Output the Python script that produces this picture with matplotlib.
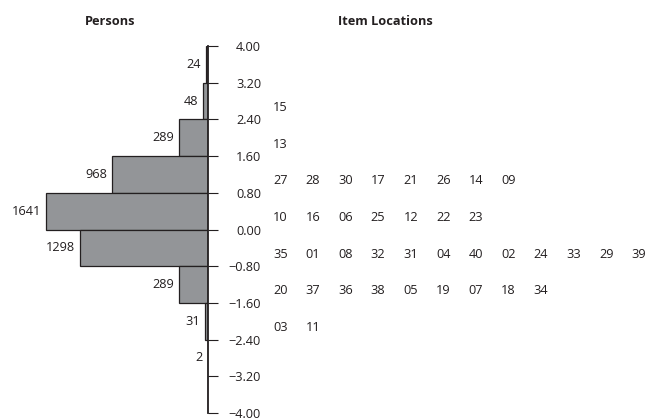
import matplotlib
matplotlib.use("Agg")
import matplotlib.pyplot as plt
import numpy as np

plt.rcParams['font.family'] = ['Open Sans', 'DejaVu Sans']

# Data
bin_edges = [4.00, 3.20, 2.40, 1.60, 0.80, 0.00, -0.80, -1.60, -2.40, -3.20, -4.00]
tick_labels = ["4.00", "3.20", "2.40", "1.60", "0.80", "0.00",
               "\u22120.80", "\u22121.60", "\u22122.40", "\u22123.20", "\u22124.00"]
person_counts = [24, 48, 289, 968, 1641, 1298, 289, 31, 2, 0]
item_rows = [
    [],
    ["15"],
    ["13"],
    ["27", "28", "30", "17", "21", "26", "14", "09"],
    ["10", "16", "06", "25", "12", "22", "23"],
    ["35", "01", "08", "32", "31", "04", "40", "02", "24", "33", "29", "39"],
    ["20", "37", "36", "38", "05", "19", "07", "18", "34"],
    ["03", "11"],
    [],
    [],
]

FS = 9.2
W, H = 650, 419
fig = plt.figure(figsize=(W / 100, H / 100), dpi=100)

# Persons histogram axes (left), right edge at x=208 px
ax_left, ax_right = 0, 208
ax_top, ax_bot = 46, 413
ax = fig.add_axes([ax_left / W, (H - ax_bot) / H, (ax_right - ax_left) / W, (ax_bot - ax_top) / H])
ax.set_xlim(2107, 0)
ax.set_ylim(-4, 4)

tops = np.array(bin_edges[:-1])
bottoms = np.array(bin_edges[1:])
centers = (tops + bottoms) / 2
heights = tops - bottoms
ax.barh(centers, person_counts, height=heights, color="#939598",
        edgecolor="#231f20", linewidth=0.9, align="center")

for c, n in zip(centers, person_counts):
    if n > 0:
        ax.annotate(str(n), xy=(n, c), xytext=(-3.5, 0), textcoords="offset points",
                    ha="right", va="center", fontsize=FS, color="#231f20")

for s in ["left", "top", "bottom"]:
    ax.spines[s].set_visible(False)
ax.spines["right"].set_linewidth(1.3)
ax.spines["right"].set_color("#231f20")
ax.set_xticks([])
ax.yaxis.tick_right()
ax.set_yticks(bin_edges)
ax.set_yticklabels(tick_labels, ha="right", fontsize=FS, color="#231f20")
ax.tick_params(axis="y", direction="out", length=7.2, width=0.8, color="#231f20", pad=31)
ax.patch.set_visible(False)

ax.text(110 / W, 1 - 21.5 / H, "Persons", transform=fig.transFigure,
        ha="center", va="center", fontsize=FS, fontweight="bold", color="#231f20")
ax.text(385 / W, 1 - 21.5 / H, "Item Locations", transform=fig.transFigure,
        ha="center", va="center", fontsize=FS, fontweight="bold", color="#231f20")

# Item locations axes (right), sharing the logit scale
col0, col_step = 273, 32.6
ax2 = fig.add_axes([col0 / W, (H - ax_bot) / H, (12 * col_step) / W, (ax_bot - ax_top) / H])
ax2.set_xlim(0, 12)
ax2.set_ylim(-4, 4)
ax2.axis("off")
for c, row in zip(centers, item_rows):
    for j, lab in enumerate(row):
        ax2.text(j, c - 0.14, lab, ha="left", va="center", fontsize=FS, color="#231f20")

fig.savefig("out.png", dpi=100)
